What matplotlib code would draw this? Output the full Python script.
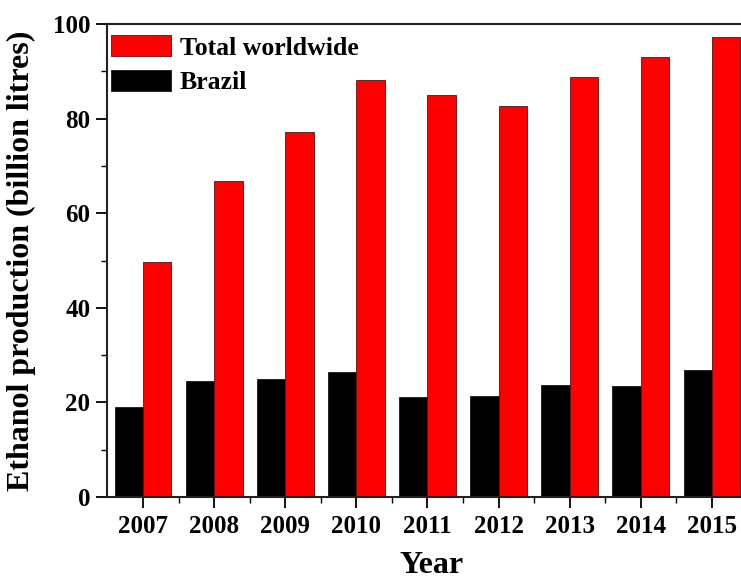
import matplotlib
matplotlib.use("Agg")
import matplotlib.pyplot as plt
import numpy as np
from matplotlib.ticker import MultipleLocator, FixedLocator

years = ["2007", "2008", "2009", "2010", "2011", "2012", "2013", "2014", "2015"]
brazil = [19.0, 24.6, 25.0, 26.4, 21.1, 21.3, 23.7, 23.5, 26.8]
worldwide = [49.7, 66.8, 77.2, 88.2, 85.0, 82.7, 88.8, 93.0, 97.3]

plt.rcParams['font.family'] = ['Liberation Serif', 'DejaVu Serif']
plt.rcParams['font.weight'] = 'bold'

fig = plt.figure(figsize=(7.41, 5.81), dpi=100)
ax = fig.add_axes([107/741, 1 - 497/581, (741 - 107)/741 + 0.02, (497 - 24)/581])

x = np.arange(len(years))
w = 0.4
ax.bar(x - w/2, brazil, width=w, color='black', edgecolor='black', linewidth=0.5, label='Brazil')
ax.bar(x + w/2, worldwide, width=w, color='#ff0000', edgecolor='#5a1010', linewidth=0.6, label='Total worldwide')

ax.set_xlim(-0.506, -0.506 + 634/71.125 + 0.02 * 741 / 71.125)
ax.set_ylim(0, 100)
ax.set_xticks(x)
ax.set_xticklabels(years)
ax.xaxis.set_minor_locator(FixedLocator(x[:-1] + 0.5))
ax.yaxis.set_major_locator(MultipleLocator(20))
ax.yaxis.set_minor_locator(MultipleLocator(10))

ax.tick_params(axis='both', which='major', direction='out', length=8, width=1.3, labelsize=18)
ax.tick_params(axis='both', which='minor', direction='out', length=4, width=1.0)
ax.tick_params(axis='x', which='major', pad=5)
ax.tick_params(axis='y', which='major', pad=4)
for lbl in ax.get_xticklabels() + ax.get_yticklabels():
    lbl.set_fontweight('bold')

for s in ['left', 'bottom', 'top']:
    ax.spines[s].set_linewidth(1.5)
    ax.spines[s].set_color('#222222')
ax.spines['right'].set_visible(False)

ax.set_ylabel('Ethanol production (billion litres)', fontsize=23, fontweight='bold', labelpad=12)
ax.set_xlabel('Year', fontsize=23, fontweight='bold', labelpad=9)

handles, labels = ax.get_legend_handles_labels()
ax.legend(handles[::-1], labels[::-1], loc='upper left', frameon=False,
          handlelength=2.3, handleheight=0.9, handletextpad=0.35, labelspacing=0.4,
          borderaxespad=0.0, borderpad=0.25, prop={'weight': 'bold', 'size': 18.5},
          bbox_to_anchor=(-0.003, 0.99))

fig.savefig('out.png', dpi=100)
